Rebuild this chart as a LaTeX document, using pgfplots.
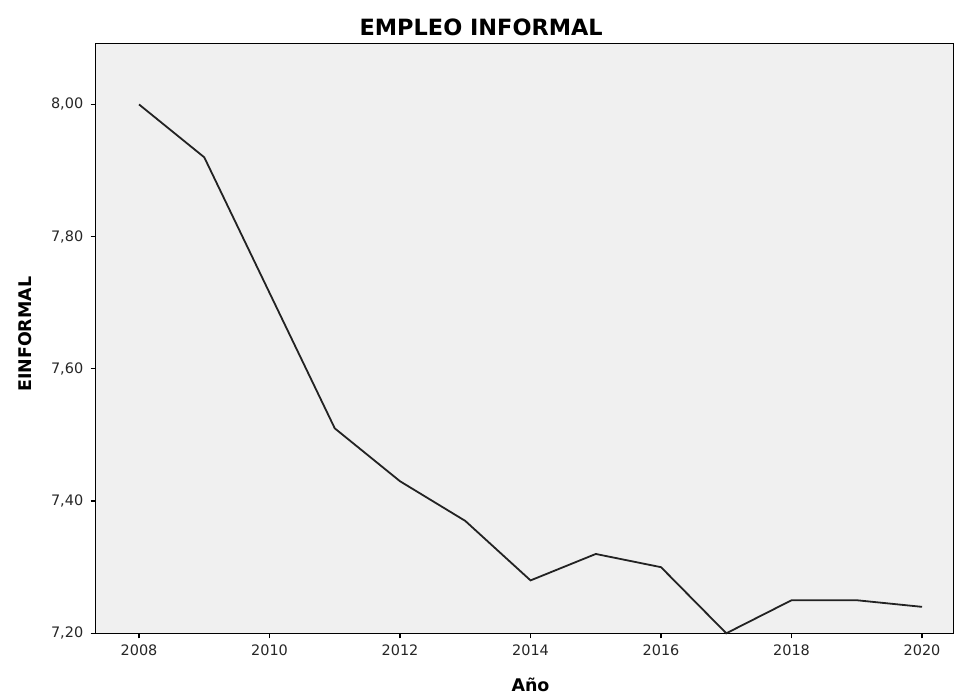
\documentclass[border=0pt]{standalone}
\usepackage{pgfplots}
\pgfplotsset{compat=1.18}
\usepackage{fontspec}
\setmainfont{DejaVu Sans}
\definecolor{bg}{HTML}{F0F0F0}
\definecolor{ln}{HTML}{222222}
\begin{document}
\begin{tikzpicture}[x=1bp,y=1bp]
\useasboundingbox (-95.7,-61.7) rectangle (858.3,633.3);
\begin{axis}[
  at={(0bp,0bp)}, anchor=south west,
  scale only axis, width=858.3bp, height=589.8bp,
  xmin=2007.336, xmax=2020.49,
  ymin=7.2, ymax=8.0922,
  axis background/.style={fill=bg},
  axis line style={black, line width=1.2bp},
  tick align=outside, tick pos=left,
  major tick length=5bp,
  every tick/.style={black, line width=1.2bp},
  xtick={2008,2010,...,2020},
  ytick={7.2,7.4,7.6,7.8,8.0},
  tick label style={font=\fontsize{14.5}{14.5}\selectfont, text=black!85},
  /pgf/number format/assume math mode=true,
  x tick label style={/pgf/number format/1000 sep={}, /tikz/yshift=-3bp},
  y tick label style={/tikz/xshift=-4bp, /pgf/number format/fixed, /pgf/number format/fixed zerofill, /pgf/number format/precision=2, /pgf/number format/use comma, /pgf/number format/1000 sep={}},
  clip=false,
]
\addplot[ln, line width=1.8bp, mark=none] coordinates {
 (2008,8.00) (2009,7.92) (2010,7.715) (2011,7.51) (2012,7.43) (2013,7.37)
 (2014,7.28) (2015,7.32) (2016,7.30) (2017,7.20) (2018,7.25) (2019,7.25) (2020,7.24)
};
\end{axis}
\node[anchor=base, font=\bfseries\fontsize{22.5}{22.5}\selectfont] at (385.5,598) {EMPLEO INFORMAL};
\node[anchor=base, rotate=90, font=\bfseries\fontsize{17.5}{17.5}\selectfont] at (-64,299) {EINFORMAL};
\node[anchor=base, font=\bfseries\fontsize{17.5}{17.5}\selectfont] at (434.8,-58) {Año};
\end{tikzpicture}
\end{document}
